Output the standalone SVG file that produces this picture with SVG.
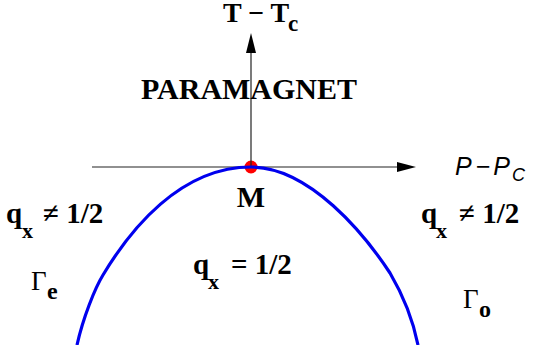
<svg xmlns="http://www.w3.org/2000/svg" width="533" height="345" viewBox="0 0 533 345">
<style>
.b{font-family:"Liberation Serif","Times New Roman",serif;font-weight:bold;fill:#000}
.r{font-family:"Liberation Serif","Times New Roman",serif;fill:#000}
.i{font-family:"Liberation Sans",Arial,sans-serif;font-style:italic;fill:#000}
.ax{stroke:#222;stroke-width:1.2;fill:none}
</style>
<rect width="533" height="345" fill="#fff"/>
<g id="point-M"><circle cx="251" cy="167" r="6.5" fill="#ff0000"/></g>
<g id="connectors">
<line class="ax" x1="92" y1="167" x2="400" y2="167"/>
<polygon points="416,167 397,162 397,172" fill="#000"/>
<line class="ax" x1="251" y1="167" x2="251" y2="50"/>
<polygon points="251,33 246,53 256,53" fill="#000"/>
<path d="M77,345 C83,318 95,288 103,275 C130,230 180,167 251,167 C310,167 365,235 390,273 C400,290 412,315 418,345" fill="none" stroke="#0000ee" stroke-width="3.2"/>
</g>
<g id="label-axis-T"><text class="b" x="223" y="22" font-size="28">T − T</text><text class="b" x="288" y="31" font-size="23">c</text></g>
<g id="label-axis-P"><text class="i" x="455" y="175" font-size="25" textLength="55" lengthAdjust="spacing">P−P</text><text class="i" x="512" y="181" font-size="18">C</text></g>
<g id="label-paramagnet"><text class="b" x="249" y="99" font-size="30" text-anchor="middle">PARAMAGNET</text></g>
<g id="label-M"><text class="b" x="251" y="207" font-size="30" text-anchor="middle">M</text></g>
<g id="label-left"><text class="b" x="6" y="223" font-size="29">q</text><text class="b" x="22" y="238" font-size="22">x</text><text class="b" x="43" y="223" font-size="29">≠ 1/2</text></g>
<g id="label-right"><text class="b" x="421" y="223" font-size="29">q</text><text class="b" x="436" y="238" font-size="22">x</text><text class="b" x="459" y="223" font-size="29">≠ 1/2</text></g>
<g id="label-center"><text class="b" x="193" y="274" font-size="29">q</text><text class="b" x="208" y="289" font-size="22">x</text><text class="b" x="231" y="274" font-size="29">= 1/2</text></g>
<g id="label-gamma-e"><text class="r" x="31" y="290" font-size="27">Γ</text><text class="b" x="47" y="299" font-size="24">e</text></g>
<g id="label-gamma-o"><text class="r" x="463" y="308" font-size="27">Γ</text><text class="b" x="479" y="317" font-size="24">o</text></g>
</svg>
